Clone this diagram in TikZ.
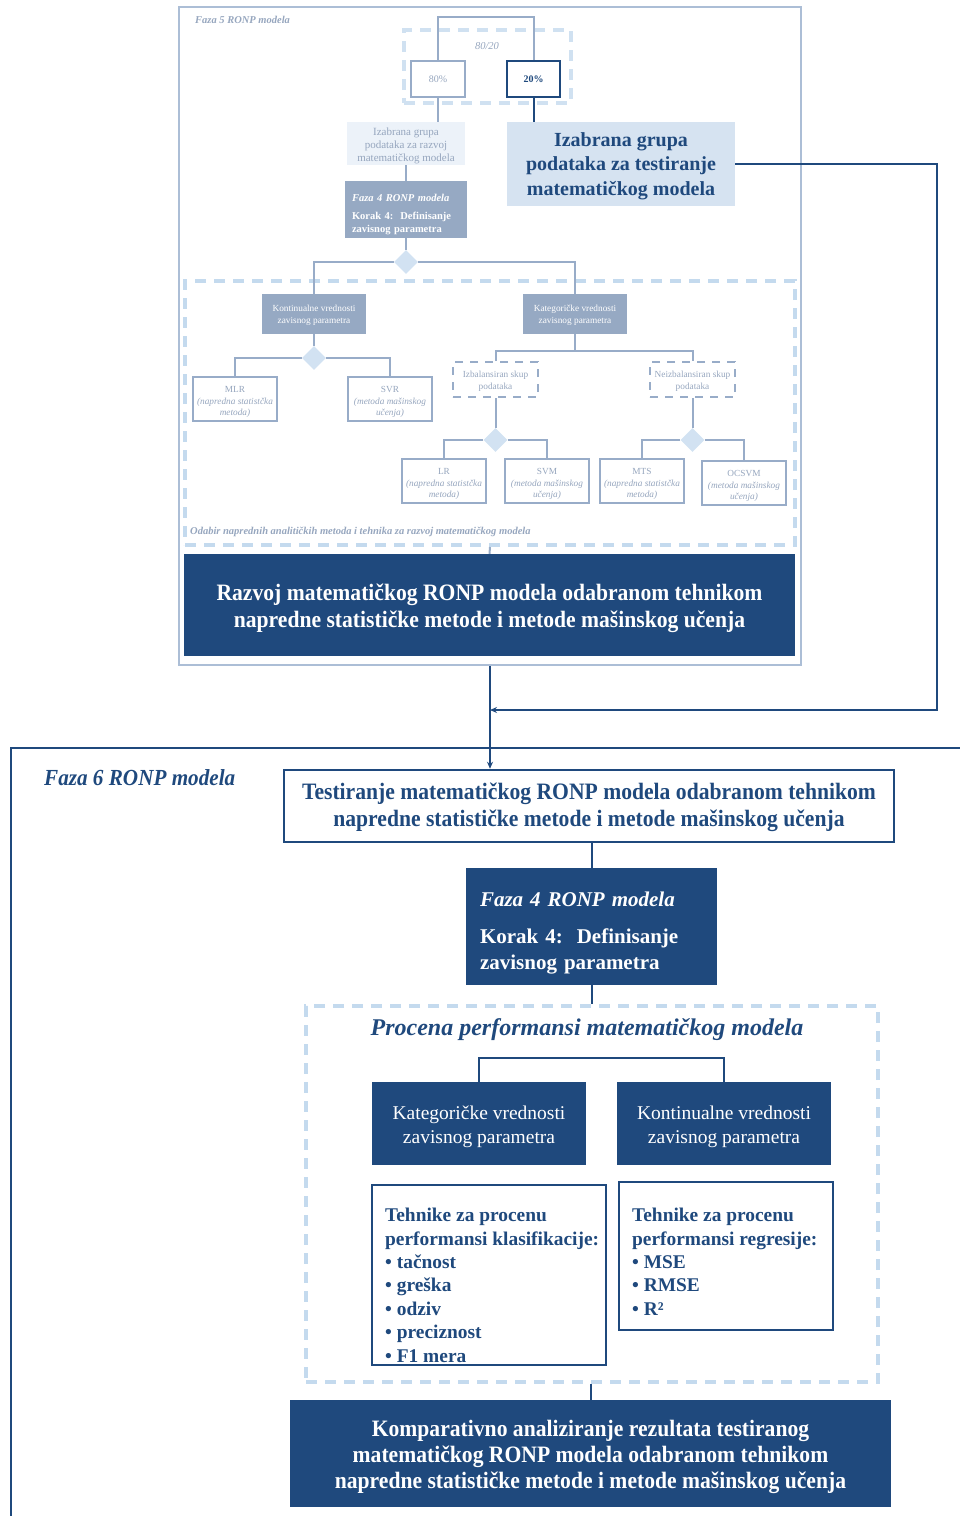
\documentclass[tikz,border=0pt]{standalone}
\usepackage{fontspec}
\setmainfont{Liberation Serif}
\newfontfamily\condserif[FakeStretch=0.92]{Liberation Serif}
\usetikzlibrary{shapes.geometric,arrows.meta}

\definecolor{cnavy}{RGB}{31,73,125}
\definecolor{cfade}{RGB}{150,169,195}
\definecolor{cfadeln}{RGB}{152,172,200}
\definecolor{cfadetxt}{RGB}{150,166,190}
\definecolor{cframe}{RGB}{172,190,214}
\definecolor{cdash}{RGB}{196,218,238}
\definecolor{cdiam}{RGB}{210,226,242}
\definecolor{cpale}{RGB}{214,227,241}
\definecolor{cpaler}{RGB}{236,242,249}

\newcommand\fsz[2]{\fontsize{#1}{#2}\selectfont}
% invisible strut that sets the height of a node's first line
\newcommand\tstrut[1]{\rule{0pt}{#1pt}}

\tikzset{
  sz/.style 2 args={minimum width=#1, minimum height=#2, inner sep=0pt, align=center},
  fadebox/.style={fill=cfade, text=white},
  navybox/.style={fill=cnavy, text=white},
  methodbox/.style={draw=cfadeln, line width=2pt, fill=white, text=cfadetxt,
                    font=\fsz{9.3}{11.5}},
  setbox/.style={draw=cfadeln, line width=2pt, dash pattern=on 8pt off 7pt,
                 text=cfadetxt, font=\fsz{9.3}{11.5}},
  lightdash/.style={draw=cdash, line width=4pt, dash pattern=on 11pt off 8pt},
  split/.style={diamond, aspect=1, fill=cdiam, minimum width=24pt, minimum height=24pt, inner sep=0pt},
  fadeline/.style={draw=cfadeln, line width=2pt},
  navyline/.style={draw=cnavy, line width=2pt},
  flowarrow/.style={draw=cnavy, line width=1.5pt, -{Stealth[length=7pt,width=6pt]}},
}

\begin{document}
\begin{tikzpicture}[x=1pt,y=-1pt]
\useasboundingbox (0,0) rectangle (960,1516);

% ---------------- Phase 5 (faded) ----------------
\node[sz={622}{658}, draw=cframe, line width=2.5pt] (faza5) at (490,336) {};
\node[anchor=west, inner sep=0pt, text=cfadetxt, font=\fsz{10.5}{12}\bfseries\itshape] (f5lbl) at (195,20) {Faza 5 RONP modela};

% 80/20 split
\node[sz={167}{73}, lightdash, draw=cdash!80!white] (g8020) at (487.5,66.5) {};
\node[inner sep=0pt, text=cfadetxt, font=\fsz{10.5}{12}\itshape] (l8020) at (487,46) {80/20};
\node[sz={54}{36}, draw=cfadeln, line width=2pt, fill=white, text=cfadetxt, font=\fsz{10}{12}] (p80) at (438,79) {80\%};
\node[sz={53}{36}, draw=cnavy, line width=2.5pt, fill=white, text=cnavy, font=\fsz{10}{12}\bfseries] (p20) at (533.5,79) {20\%};
\draw[fadeline] (p80.north) -- ++(0,-43) -| (p20.north);

\node[sz={118}{43}, fill=cpaler, text=cfadetxt, font=\fsz{11}{13}] (grpdev) at (406,143.5)
  {\tstrut{11.5}Izabrana grupa\\podataka za razvoj\\matematičkog modela};
\node[sz={228}{84}, fill=cpale, text=cnavy, font=\fsz{20}{24.5}\bfseries] (grptest) at (621,164)
  {\tstrut{17.6}Izabrana grupa\\podataka za testiranje\\matematičkog modela};
\draw[fadeline] (p80.south) -- (p80.south |- grpdev.north);
\draw[navyline] (p20.south) -- (p20.south |- grptest.north);

\node[sz={122}{57}, fadebox, text width=108pt, align=left, font=\fsz{10.5}{13}\bfseries] (f4a) at (406,209.5)
  {\tstrut{17}\textit{Faza 4 RONP modela}\\[5pt] Korak 4:\ \ Definisanje\\zavisnog parametra};
\draw[fadeline] (grpdev.south) -- (f4a.north);

\node[split] (d1) at (406,262) {};
\draw[fadeline] (f4a.south) -- (d1.north);

% method selection group
\node[sz={610}{264}, lightdash] (grpsel) at (490,413) {};
\node[sz={104}{40}, fadebox, font=\fsz{9.3}{12}] (konA) at (314,314) {\tstrut{8}Kontinualne vrednosti\\zavisnog parametra};
\node[sz={104}{40}, fadebox, font=\fsz{9.3}{12}] (katA) at (575,314) {\tstrut{8}Kategoričke vrednosti\\zavisnog parametra};
\draw[fadeline] (d1.west) -| (konA.north);
\draw[fadeline] (d1.east) -| (katA.north);

\node[split] (d2) at (314,358) {};
\draw[fadeline] (konA.south) -- (d2.north);
\node[sz={84}{44}, methodbox] (mlr) at (235,399) {\tstrut{12}MLR\\\textit{(napredna statistčka}\\\textit{metoda)}};
\node[sz={84}{44}, methodbox] (svr) at (390,399) {\tstrut{12}SVR\\\textit{(metoda mašinskog}\\\textit{učenja)}};
\draw[fadeline] (d2.west) -| (mlr.north);
\draw[fadeline] (d2.east) -| (svr.north);

\node[sz={85}{35}, setbox] (izb) at (495.5,379.5) {\tstrut{10}Izbalansiran skup\\podataka};
\node[sz={85}{35}, setbox] (neiz) at (692.5,379.5) {\tstrut{10}Neizbalansiran skup\\podataka};
\draw[fadeline] (katA.south) -- ++(0,17) coordinate (kj);
\draw[fadeline] (izb.north) |- (kj) -| (neiz.north);

\node[split] (d3) at (495.5,440) {};
\node[split] (d4) at (692.5,440) {};
\draw[fadeline] (izb.south) -- (d3.north);
\draw[fadeline] (neiz.south) -- (d4.north);

\node[sz={84}{44}, methodbox] (lr) at (444,481) {\tstrut{12}LR\\\textit{(napredna statistčka}\\\textit{metoda)}};
\node[sz={84}{44}, methodbox] (svm) at (547,481) {\tstrut{12}SVM\\\textit{(metoda mašinskog}\\\textit{učenja)}};
\node[sz={84}{44}, methodbox] (mts) at (642,481) {\tstrut{12}MTS\\\textit{(napredna statistčka}\\\textit{metoda)}};
\node[sz={84}{44}, methodbox] (ocsvm) at (744,483) {\tstrut{12}OCSVM\\\textit{(metoda mašinskog}\\\textit{učenja)}};
\draw[fadeline] (d3.west) -| (lr.north);
\draw[fadeline] (d3.east) -| (svm.north);
\draw[fadeline] (d4.west) -| (mts.north);
\draw[fadeline] (d4.east) -| (ocsvm.north);

\node[anchor=west, inner sep=0pt, text=cfadetxt, font=\fsz{10.5}{12}\bfseries\itshape] (sellbl) at (190,532)
  {Odabir naprednih analitičkih metoda i tehnika za razvoj matematičkog modela};

\node[sz={611}{102}, navybox, font=\condserif\fsz{23.5}{27}\bfseries] (razvoj) at (489.5,605)
  {\tstrut{24}Razvoj matematičkog RONP modela odabranom tehnikom\\napredne statističke metode i metode mašinskog učenja};
\draw[fadeline] (grpsel.south) -- (razvoj.north);

% ---------------- Phase 6 ----------------
\coordinate (f6bl) at (11,1516);
\coordinate (f6tl) at (11,748);
\coordinate (f6tr) at (960,748);
\draw[cnavy, line width=2.5pt] (f6bl) -- (f6tl) -- (f6tr);
\node[anchor=west, inner sep=0pt, text=cnavy, font=\condserif\fsz{23}{27}\bfseries\itshape] (f6lbl) at (44,778) {Faza 6 RONP modela};

\node[sz={610}{72}, draw=cnavy, line width=2.5pt, fill=white, text=cnavy, font=\condserif\fsz{23.5}{27}\bfseries] (test) at (589,806)
  {\tstrut{20}Testiranje matematičkog RONP modela odabranom tehnikom\\napredne statističke metode i metode mašinskog učenja};

\draw[flowarrow] (faza5.south) -- (faza5.south |- test.north);
\coordinate (fbc) at (937,710);
\draw[flowarrow] (grptest.east) -| (fbc) -- (fbc -| faza5.south);

\node[sz={251}{117}, navybox, text width=223pt, align=left, font=\fsz{21}{26}\bfseries] (f4b) at (591.5,926.5)
  {\tstrut{28.3}\textit{Faza 4 RONP modela}\\[11pt] Korak 4:\ \ Definisanje\\zavisnog parametra};
\draw[navyline] (test.south -| f4b.north) -- (f4b.north);

\node[sz={572}{376}, lightdash] (grpeval) at (592,1194) {};
\draw[navyline] (f4b.south) -- (f4b.south |- grpeval.north);
\node[inner sep=0pt, text=cnavy, font=\fsz{24}{28}\bfseries\itshape] (evtitle) at (587,1030) {Procena performansi matematičkog modela};

\node[sz={214}{83}, navybox, font=\fsz{19.5}{24}] (katB) at (479,1123.5) {\tstrut{19.3}Kategoričke vrednosti\\zavisnog parametra};
\node[sz={214}{83}, navybox, font=\fsz{19.5}{24}] (konB) at (724,1123.5) {\tstrut{19.3}Kontinualne vrednosti\\zavisnog parametra};
\draw[navyline] (katB.north) -- ++(0,-24) -| (konB.north);

\node[sz={234}{180}, draw=cnavy, line width=2pt, fill=white] (tclass) at (489,1275) {};
\node[anchor=north west, inner sep=0pt, align=left, text=cnavy, font=\fsz{19.4}{23.4}\bfseries] (tclasstxt)
  at ([shift={(14,24)}]tclass.north west)
  {Tehnike za procenu\\performansi klasifikacije:\\• tačnost\\• greška\\• odziv\\• preciznost\\• F1 mera};
\node[sz={214}{148}, draw=cnavy, line width=2pt, fill=white] (treg) at (726,1256) {};
\node[anchor=north west, inner sep=0pt, align=left, text=cnavy, font=\fsz{19.4}{23.4}\bfseries] (tregtxt)
  at ([shift={(14,27)}]treg.north west)
  {Tehnike za procenu\\performansi regresije:\\• MSE\\• RMSE\\• R²};

\node[sz={601}{107}, navybox, font=\condserif\fsz{23.5}{26}\bfseries] (komp) at (590.5,1453.5)
  {\tstrut{24}Komparativno analiziranje rezultata testiranog\\matematičkog RONP modela odabranom tehnikom\\napredne statističke metode i metode mašinskog učenja};
\draw[navyline] (grpeval.south -| komp.north) -- (komp.north);
\end{tikzpicture}
\end{document}
